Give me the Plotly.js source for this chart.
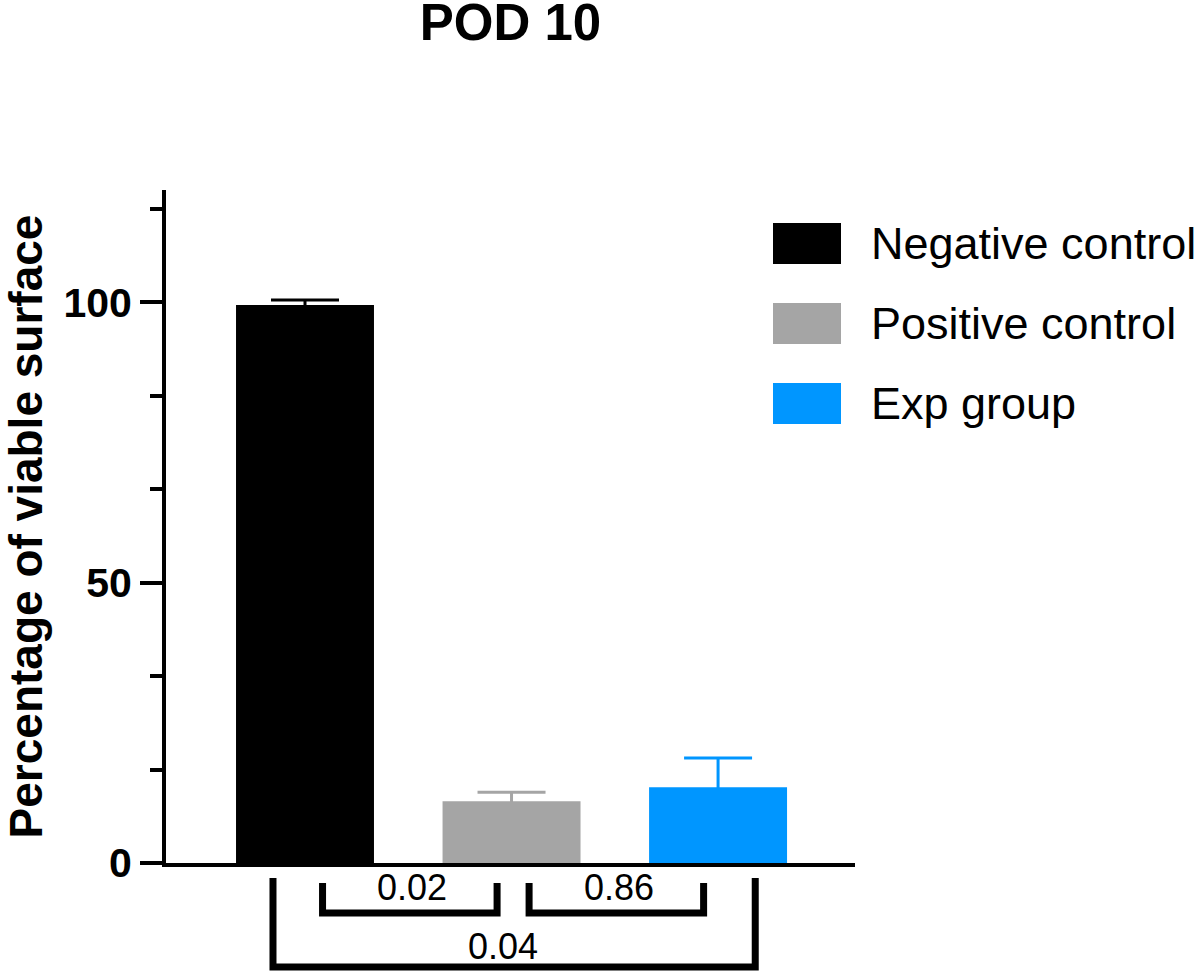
<!DOCTYPE html>
<html>
<head>
<meta charset="utf-8">
<script src="https://cdn.plot.ly/plotly-3.0.1.min.js"></script>
<style>html,body{margin:0;padding:0;background:#fff;}#chart{width:1200px;height:979px;}</style>
</head>
<body>
<div id="chart"></div>
<script>
// ---- data ----
var groups = ["Negative control", "Positive control", "Exp group"];
var means = [99.5, 11.0, 13.5];
var sems = [0.9, 1.6, 5.2];
var colors = ["#000000", "#a5a5a5", "#0096ff"];
var yTickVals = [0, 50, 100];
var comparisons = [
  {from: 0, to: 1, label: "0.02", level: 0},
  {from: 1, to: 2, label: "0.86", level: 0},
  {from: 0, to: 2, label: "0.04", level: 1}
];

var xIdx = groups.map(function (g, i) { return i; });
var FONT = "Liberation Sans, Arial, Helvetica, sans-serif";

// error bars (symmetric) in transparent bars drawn first; visible bars on top hide the lower half
var errTraces = xIdx.map(function (i) {
  return {
    type: "bar", x: [i], y: [means[i]], name: groups[i] + " SEM",
    marker: {color: "rgba(0,0,0,0)", line: {width: 0}},
    width: 0.668,
    error_y: {type: "data", symmetric: true, array: [sems[i]],
      color: colors[i], thickness: 3, width: 34, visible: true},
    showlegend: false, hoverinfo: "skip"
  };
});
var barTraces = xIdx.map(function (i) {
  return {
    type: "bar", x: [i], y: [means[i]], name: groups[i],
    marker: {color: colors[i], line: {width: 0}},
    width: 0.668,
    showlegend: false, hoverinfo: "name+y"
  };
});

var plotH = 673, plotW = 689;
function py(pix) { return -pix / plotH; } // pixels below the x axis -> paper

var shapes = [], annotations = [];
comparisons.forEach(function (c) {
  var x0, x1, yTop, yBot, yLab, w;
  if (c.level === 0) {
    x0 = c.from + 0.085; x1 = c.to - 0.07;
    yTop = py(20); yBot = py(50); yLab = py(24); w = 7;
  } else {
    x0 = c.from - 0.155; x1 = c.to + 0.18;
    yTop = py(15); yBot = py(104); yLab = py(83); w = 7;
  }
  shapes.push({type: "path", xref: "x", yref: "paper",
    path: "M" + x0 + "," + yTop + " L" + x0 + "," + yBot + " L" + x1 + "," + yBot + " L" + x1 + "," + yTop,
    line: {color: "#000", width: w}});
  annotations.push({xref: "x", yref: "paper", x: (c.from + c.to) / 2 + (c.level === 0 ? 0.02 : -0.04), y: yLab,
    text: c.label, showarrow: false, xanchor: "center", yanchor: "middle",
    font: {family: FONT, size: 36, color: "#000"}});
});

// custom legend
groups.forEach(function (g, i) {
  var top = (863 - 223 - i * 80) / plotH;
  var bot = (863 - 264 - i * 80) / plotH;
  shapes.push({type: "rect", xref: "paper", yref: "paper",
    x0: (773 - 166) / plotW, x1: (841 - 166) / plotW, y0: bot, y1: top,
    fillcolor: colors[i], line: {width: 0}});
  annotations.push({xref: "paper", yref: "paper", x: (869 - 166) / plotW, y: (top + bot) / 2,
    text: g, showarrow: false, xanchor: "left", yanchor: "middle",
    font: {family: FONT, size: 45, color: "#000"}});
});

var layout = {
  width: 1200, height: 979,
  margin: {l: 166, r: 345, t: 190, b: 116, pad: 0},
  paper_bgcolor: "#fff", plot_bgcolor: "#fff",
  showlegend: false,
  barmode: "overlay",
  title: {text: "<b>POD 10</b>", x: 0.5, xref: "paper", yref: "container", y: 1 - 4 / 979, yanchor: "top",
    pad: {t: 0},
    font: {family: FONT, size: 51, color: "#000"}},
  xaxis: {type: "linear", range: [-0.673, 2.663], showgrid: false, zeroline: false,
    showticklabels: false, ticks: "", showline: true, linecolor: "#000", linewidth: 4, fixedrange: true},
  yaxis: {range: [0, 120], showgrid: false, zeroline: false,
    tickvals: yTickVals, ticktext: yTickVals.map(function (v) { return "<b>" + v + "</b>"; }),
    ticks: "outside", ticklen: 22, tickwidth: 4, tickcolor: "#000",
    minor: {dtick: 50 / 3, tick0: 0, ticks: "outside", ticklen: 12, tickwidth: 4, tickcolor: "#000", showgrid: false},
    showline: true, linecolor: "#000", linewidth: 4,
    tickfont: {family: FONT, size: 41, color: "#000"},
    title: {text: "<b>Percentage of viable surface</b>", standoff: 18,
      font: {family: FONT, size: 46, color: "#000"}},
    fixedrange: true},
  shapes: shapes,
  annotations: annotations
};

Plotly.newPlot("chart", errTraces.concat(barTraces), layout, {displayModeBar: false, staticPlot: true});
</script>
</body>
</html>
